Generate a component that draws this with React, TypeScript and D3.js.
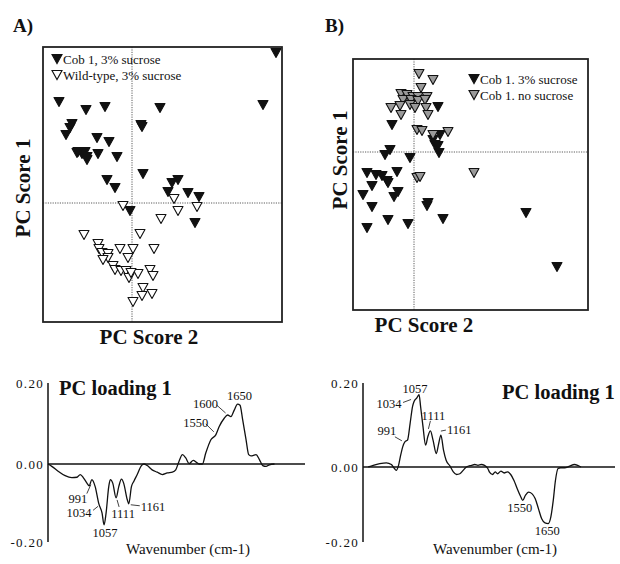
import React, { useEffect } from "react";
import * as d3 from "d3";

// PC score plots (arbitrary score units)
const aCob3 = [
  [14.4, 15.0], [-7.3, 10.1], [-4.6, 9.3], [-2.7, 9.6], [2.8, 9.5], [13.1, 9.8], [0.9, 7.8], [1.0, 7.6],
  [-6.0, 7.9], [-6.2, 7.5], [-6.6, 6.8], [-3.5, 6.5], [-2.3, 6.1], [-5.4, 5.1], [-4.7, 5.1], [-5.0, 4.9],
  [-4.5, 4.6], [-3.4, 4.9], [-1.5, 4.6], [-5.5, 5.0], [-4.5, 4.3], [1.1, 2.9], [-2.5, 2.3], [-1.7, 1.5],
  [4.0, 2.0], [4.6, 2.3], [3.6, 1.1], [5.6, 1.0], [6.7, 0.6], [-0.2, -0.8], [6.3, -2.0], [-0.4, -7.1],
];
const aWild3 = [
  [-0.9, -0.3], [4.2, 0.4], [6.5, -0.4], [4.6, -0.8], [2.9, -1.6], [-4.8, -3.2], [0.8, -3.1], [-3.4, -4.1],
  [-3.3, -4.6], [-3.0, -5.0], [-2.4, -5.1], [-1.2, -4.6], [0.1, -4.6], [2.2, -4.6], [-2.4, -5.5], [-0.4, -5.5],
  [-2.9, -5.7], [-1.9, -6.3], [-1.7, -6.7], [-1.1, -6.8], [-0.6, -6.8], [0.6, -7.1], [1.8, -6.7], [2.1, -7.3],
  [-0.3, -7.5], [1.1, -8.5], [1.0, -9.3], [2.0, -9.1], [0.1, -9.9], [-0.1, -7.0],
];
const bCob3 = [
  [2.4, 4.5], [-2.2, 2.7], [2.6, 1.7], [1.9, 1.2], [2.1, 0.7], [2.4, 0.6], [2.5, -0.1], [-2.4, 0.2],
  [-2.9, -0.3], [-0.4, -0.6], [-4.7, -2.1], [-3.8, -2.3], [-3.2, -2.4], [-2.7, -2.9], [-4.2, -3.4], [-2.6, -3.1],
  [-1.7, -2.0], [-5.1, -4.3], [-1.6, -4.0], [-2.0, -4.5], [-4.2, -5.5], [1.4, -5.1], [1.3, -5.4], [-2.6, -6.8],
  [-0.6, -7.2], [2.9, -6.7], [-4.7, -7.6], [11.2, -6.1], [14.3, -11.5],
];
const bCobNo = [
  [0.5, 7.8], [1.9, 7.2], [0.7, 6.4], [-1.3, 5.8], [-0.7, 5.7], [-0.1, 5.5], [0.4, 5.5], [1.3, 5.5],
  [-1.1, 5.2], [-0.3, 5.2], [0.4, 5.1], [1.1, 5.2], [-2.3, 4.4], [-1.4, 4.6], [-0.4, 4.7], [0.1, 4.4],
  [1.2, 4.4], [-1.3, 3.7], [1.4, 3.7], [0.3, 2.2], [0.8, 2.1], [1.9, 1.7], [3.4, 2.0], [0.3, -2.6],
  [0.6, -2.5], [6.0, -2.1],
];

// PC loading 1 spectra
const leftWn = [
  800, 817, 847, 877, 907, 930, 945, 960, 975, 985, 997, 1012, 1028, 1043, 1052, 1061, 1073, 1080, 1091, 1106,
  1118, 1130, 1140, 1156, 1163, 1175, 1186, 1201, 1220, 1231, 1246, 1268, 1291, 1314, 1336, 1359, 1374, 1389,
  1404, 1419, 1434, 1453, 1467, 1479, 1494, 1509, 1532, 1554, 1569, 1592, 1607, 1622, 1637, 1652, 1663, 1675,
  1690, 1702, 1712, 1735, 1750, 1765, 1780, 1795, 1818,
];
const leftLoad = [
  0, -0.006, -0.019, -0.03, -0.035, -0.034, -0.027, -0.036, -0.049, -0.056, -0.04, -0.058, -0.101, -0.126,
  -0.156, -0.126, -0.058, -0.04, -0.049, -0.087, -0.058, -0.039, -0.049, -0.091, -0.102, -0.058, -0.044,
  -0.027, -0.004, 0, -0.004, -0.015, -0.021, -0.027, -0.023, -0.021, -0.015, 0.007, 0.023, 0.015, 0.001,
  0.009, 0.004, 0, 0, 0.027, 0.06, 0.072, 0.092, 0.113, 0.121, 0.117, 0.133, 0.148, 0.145, 0.109, 0.06,
  0.023, 0.02, 0.023, 0.011, -0.004, -0.006, -0.002, 0,
];
const rightWn = [
  824, 847, 877, 907, 930, 944, 952, 962, 971, 982, 992, 1004, 1016, 1027, 1034, 1046, 1057, 1064, 1075, 1087,
  1097, 1109, 1121, 1136, 1147, 1157, 1169, 1181, 1199, 1214, 1229, 1244, 1259, 1274, 1297, 1312, 1327, 1342,
  1357, 1372, 1379, 1394, 1406, 1417, 1432, 1447, 1462, 1477, 1492, 1507, 1522, 1532, 1544, 1559, 1574, 1589,
  1604, 1619, 1634, 1649, 1661, 1672, 1682, 1694, 1706, 1724, 1747, 1769, 1784, 1799,
];
const rightLoad = [
  0, 0.004, 0.008, 0.01, 0.006, -0.004, -0.009, 0.002, 0.024, 0.048, 0.06, 0.064, 0.104, 0.144, 0.156, 0.164,
  0.172, 0.144, 0.096, 0.052, 0.072, 0.086, 0.064, 0.032, 0.056, 0.076, 0.04, 0.016, 0.002, -0.013, -0.02,
  -0.018, -0.009, 0, 0.004, 0.006, 0.004, 0.006, 0.004, -0.004, -0.013, -0.02, -0.013, -0.018, -0.011, -0.016,
  -0.013, -0.02, -0.036, -0.058, -0.078, -0.089, -0.076, -0.067, -0.071, -0.084, -0.111, -0.138, -0.149, -0.151,
  -0.133, -0.089, -0.036, -0.004, -0.002, -0.002, 0.002, 0.006, 0.004, 0,
];

// labelled bands: text, wavenumber where the label points, loading there
const leftNoteText = ["991", "1034", "1057", "1111", "1161", "1550", "1600", "1650"];
const leftNoteWn = [997, 1034, 1052, 1106, 1163, 1554, 1607, 1652];
const leftNoteVal = [-0.04, -0.111, -0.156, -0.087, -0.102, 0.072, 0.121, 0.148];
const rightNoteText = ["991", "1034", "1057", "1111", "1161", "1550", "1650"];
const rightNoteWn = [992, 1034, 1057, 1109, 1157, 1532, 1649];
const rightNoteVal = [0.06, 0.156, 0.172, 0.086, 0.076, -0.089, -0.151];

const yTicks = [0.2, 0, -0.2];
const wnDomain = [800, 1955];

const SERIF = "'Liberation Serif', 'DejaVu Serif', serif";
const INK = "#111";

const tri = (cx, cy, w = 10, h = 9) =>
  `M${cx - w / 2},${cy - h / 2}L${cx + w / 2},${cy - h / 2}L${cx},${cy + h / 2}Z`;

type ScatterProps = {
  box: [number, number, number, number];
  xDomain: [number, number];
  yDomain: [number, number];
  series: { pts: number[][]; fill: string; label: string }[];
  legendX: number;
  legendY: number;
  title: string;
  titleX: number;
  yLabelX: number;
  yLabelY: number;
  xLabelY: number;
  xLabelX: number;
};

const Scatter = (p: ScatterProps) => {
  const [x0, y0, x1, y1] = p.box;
  const x = d3.scaleLinear().domain(p.xDomain).range([x0, x1]);
  const y = d3.scaleLinear().domain(p.yDomain).range([y1, y0]);
  return (
    <g>
      <text x={p.titleX} y={32} fontFamily={SERIF} fontWeight="bold" fontSize={19} fill={INK}>
        {p.title}
      </text>
      <line x1={x(0)} x2={x(0)} y1={y0} y2={y1} stroke="#333" strokeWidth={0.8} strokeDasharray="1.2,1.2" />
      <line x1={x0} x2={x1} y1={y(0)} y2={y(0)} stroke="#333" strokeWidth={0.8} strokeDasharray="1.2,1.2" />
      {p.series.map((s, i) => (
        <g key={i}>
          {s.pts.map((d, j) => (
            <path key={j} d={tri(x(d[0]), y(d[1]))} fill={s.fill} stroke={INK} strokeWidth={1.1} strokeLinejoin="round" />
          ))}
        </g>
      ))}
      <rect x={x0} y={y0} width={x1 - x0} height={y1 - y0} fill="none" stroke="#222" strokeWidth={1.8} />
      {p.series.map((s, i) => (
        <g key={"lg" + i}>
          <path d={tri(p.legendX, p.legendY + i * 16)} fill={s.fill} stroke={INK} strokeWidth={1.1} />
          <text x={p.legendX + 6} y={p.legendY + i * 16 + 4.5} fontFamily={SERIF} fontSize={13} fill={INK}>
            {s.label}
          </text>
        </g>
      ))}
      <text
        transform={`translate(${p.yLabelX},${p.yLabelY}) rotate(-90)`}
        textAnchor="middle"
        fontFamily={SERIF}
        fontWeight="bold"
        fontSize={21}
        fill={INK}
      >
        PC Score 1
      </text>
      <text x={p.xLabelX} y={p.xLabelY} textAnchor="middle" fontFamily={SERIF} fontWeight="bold" fontSize={21} fill={INK}>
        PC Score 2
      </text>
    </g>
  );
};

type Note = { anchor: string; dx: number; dy: number; lead?: number[] };

type LoadingProps = {
  axisX: number;
  endX: number;
  yRange: [number, number, number];
  wn: number[];
  load: number[];
  noteText: string[];
  noteWn: number[];
  noteVal: number[];
  notes: Record<string, Note>;
  titleX: number;
  titleY: number;
  xLabelX: number;
  xLabelY: number;
};

const Loading = (p: LoadingProps) => {
  const x = d3.scaleLinear().domain(wnDomain).range([p.axisX, p.endX]);
  const y = d3.scaleLinear().domain([-0.2, 0, 0.2]).range(p.yRange);
  const line = d3
    .line<number>()
    .x((_, i) => x(p.wn[i]))
    .y((d) => y(d))
    .curve(d3.curveMonotoneX);
  return (
    <g>
      <line x1={p.axisX} x2={p.endX} y1={y(0)} y2={y(0)} stroke={INK} strokeWidth={1.3} />
      <line x1={p.axisX} x2={p.axisX} y1={y(0.2)} y2={y(-0.2)} stroke={INK} strokeWidth={1.5} />
      {yTicks.map((t) => (
        <text
          key={t}
          x={p.axisX - 4}
          y={y(t)}
          dy="0.35em"
          textAnchor="end"
          fontFamily={SERIF}
          fontSize={13}
          letterSpacing={1.3}
          fill={INK}
        >
          {t.toFixed(2)}
        </text>
      ))}
      <path d={line(p.load) || ""} fill="none" stroke={INK} strokeWidth={1.3} strokeLinejoin="round" />
      {p.noteText.map((t, i) => {
        const px = x(p.noteWn[i]);
        const py = y(p.noteVal[i]);
        const n = p.notes[t];
        return (
          <g key={t}>
            {n.lead && (
              <line
                x1={px + n.lead[0]}
                y1={py + n.lead[1]}
                x2={px + n.lead[2]}
                y2={py + n.lead[3]}
                stroke={INK}
                strokeWidth={0.8}
              />
            )}
            <text x={px + n.dx} y={py + n.dy} textAnchor={n.anchor} fontFamily={SERIF} fontSize={12.5} fill={INK}>
              {t}
            </text>
          </g>
        );
      })}
      <text x={p.titleX} y={p.titleY} fontFamily={SERIF} fontWeight="bold" fontSize={20.5} fill={INK}>
        PC loading 1
      </text>
      <text x={p.xLabelX} y={p.xLabelY} textAnchor="middle" fontFamily={SERIF} fontSize={15} fill={INK}>
        Wavenumber (cm-1)
      </text>
    </g>
  );
};

const leftNotes: Record<string, Note> = {
  "991": { anchor: "middle", dx: -14, dy: 23, lead: [-5, 14, -1, 5] },
  "1034": { anchor: "middle", dx: -21, dy: 10, lead: [-7, 3, -2, -1] },
  "1057": { anchor: "middle", dx: 1, dy: 12 },
  "1111": { anchor: "middle", dx: 7, dy: 20, lead: [3, 9, 1, 2] },
  "1161": { anchor: "start", dx: 12, dy: 7, lead: [2, 1, 11, 2] },
  "1550": { anchor: "middle", dx: -20, dy: -8, lead: [-10, -11, -2, -3] },
  "1600": { anchor: "middle", dx: -22, dy: -7, lead: [-11, -10, -2, -2] },
  "1650": { anchor: "middle", dx: 2, dy: -4 },
};

const rightNotes: Record<string, Note> = {
  "991": { anchor: "middle", dx: -18, dy: -7, lead: [-10, -5, -3, -1] },
  "1034": { anchor: "middle", dx: -25, dy: 7, lead: [-11, 1, -3, -2] },
  "1057": { anchor: "middle", dx: -4, dy: -2 },
  "1111": { anchor: "middle", dx: 3, dy: -11, lead: [0, -10, -2, -2] },
  "1161": { anchor: "start", dx: 6, dy: -1, lead: [0, -4, 5, -5] },
  "1550": { anchor: "middle", dx: -3, dy: 12 },
  "1650": { anchor: "middle", dx: -1, dy: 11 },
};

export default function App() {
  useEffect(() => {
    document.body.style.margin = "0";
  }, []);
  return (
    <svg width={620} height={564} viewBox="0 0 620 564" style={{ display: "block", background: "#fff" }}>
      <Scatter
        box={[43, 47, 282, 322]}
        xDomain={[-8.9, 15]}
        yDomain={[-11.9, 15.6]}
        series={[
          { pts: aCob3, fill: INK, label: "Cob 1, 3% sucrose" },
          { pts: aWild3, fill: "#fff", label: "Wild-type, 3% sucrose" },
        ]}
        legendX={57}
        legendY={59}
        title="A)"
        titleX={13}
        yLabelX={30}
        yLabelY={188}
        xLabelX={149}
        xLabelY={344}
      />
      <Scatter
        box={[353, 59, 588, 310]}
        xDomain={[-6.1, 17.4]}
        yDomain={[-15.8, 9.3]}
        series={[
          { pts: bCob3, fill: INK, label: "Cob 1. 3% sucrose" },
          { pts: bCobNo, fill: "#9a9a9a", label: "Cob 1. no sucrose" },
        ]}
        legendX={474}
        legendY={79}
        title="B)"
        titleX={325}
        yLabelX={347}
        yLabelY={160}
        xLabelX={424}
        xLabelY={332}
      />
      <Loading
        axisX={48}
        endX={305}
        yRange={[542, 464, 383]}
        wn={leftWn}
        load={leftLoad}
        noteText={leftNoteText}
        noteWn={leftNoteWn}
        noteVal={leftNoteVal}
        notes={leftNotes}
        titleX={59}
        titleY={395}
        xLabelX={188}
        xLabelY={554}
      />
      <Loading
        axisX={363}
        endX={615}
        yRange={[542, 467, 383]}
        wn={rightWn}
        load={rightLoad}
        noteText={rightNoteText}
        noteWn={rightNoteWn}
        noteVal={rightNoteVal}
        notes={rightNotes}
        titleX={502}
        titleY={399}
        xLabelX={495}
        xLabelY={554}
      />
    </svg>
  );
}
